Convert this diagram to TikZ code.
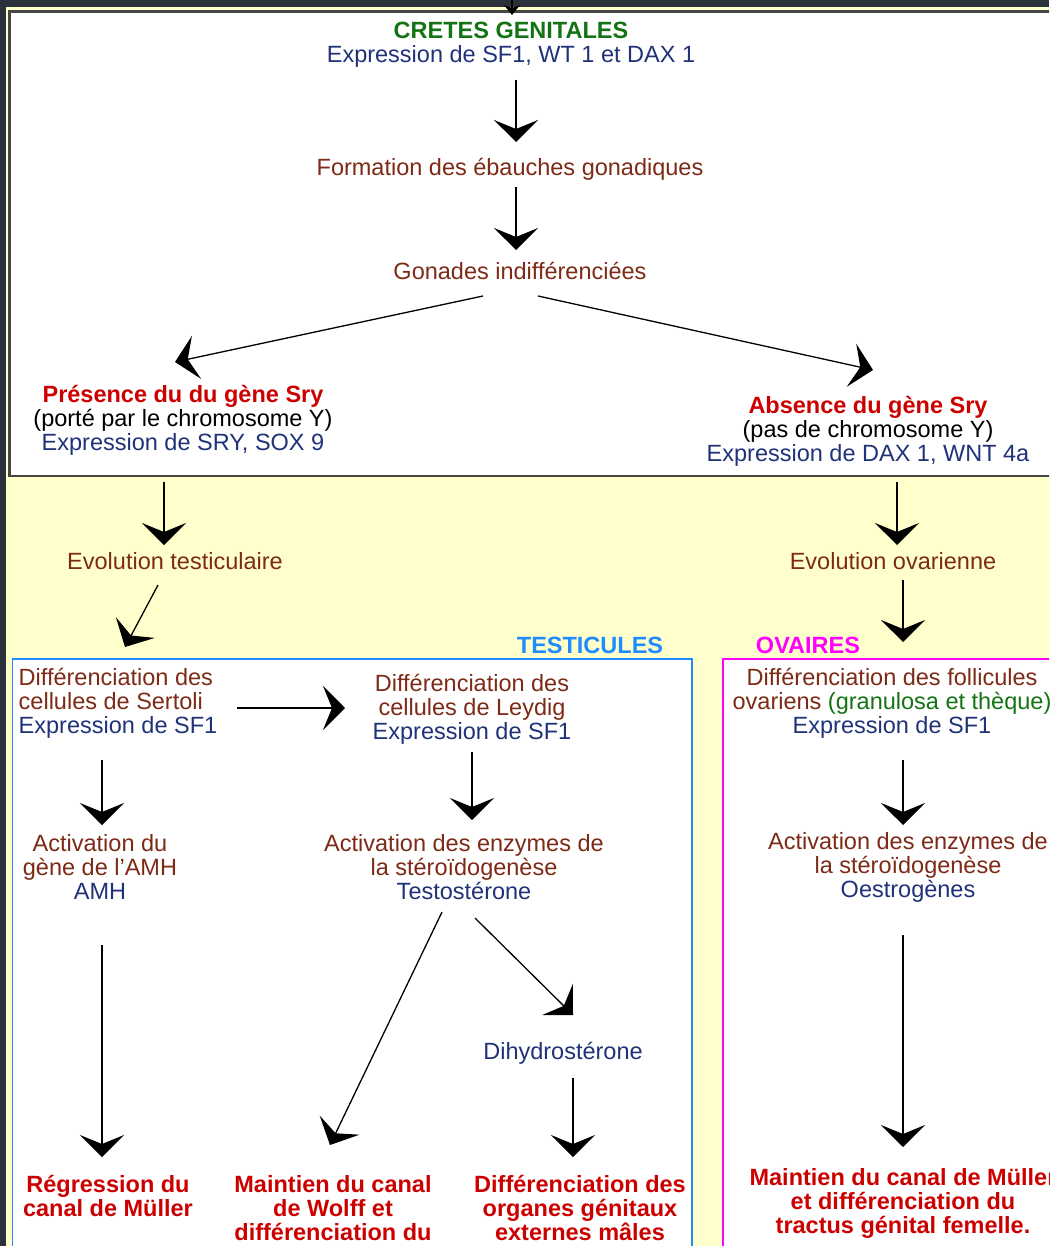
\documentclass[tikz,border=0pt]{standalone}
\usepackage{fontspec}
\setmainfont{Liberation Sans}
\usetikzlibrary{arrows.meta,calc,positioning}
\definecolor{bgdark}{RGB}{43,49,58}
\definecolor{paleyel}{RGB}{255,255,204}
\definecolor{framegray}{RGB}{70,70,70}
\definecolor{cgreen}{RGB}{20,115,20}
\definecolor{cnavy}{RGB}{32,50,120}
\definecolor{cbrown}{RGB}{125,42,22}
\definecolor{cred}{RGB}{205,0,0}
\definecolor{tblue}{RGB}{30,140,255}
\definecolor{omag}{RGB}{255,0,255}
\newcommand{\bigfont}{\fontsize{23.5}{24}\selectfont}

\begin{document}
\begin{tikzpicture}[x=1pt,y=-1pt,
  txt/.style={font=\bigfont,align=center,inner sep=0pt},
  desc/.style={txt,text=cbrown},
  result/.style={txt,text=cred,font=\bigfont\bfseries},
  arr/.style={-{Stealth[length=22pt,width=44pt,inset=9pt]},line width=1.3pt},
  smallarr/.style={-{Stealth[length=10pt,width=16pt,inset=3pt]},line width=1.3pt}]
  \useasboundingbox (0,0) rectangle (1049,1246);
  \clip (0,0) rectangle (1049,1246);
  % backgrounds and frames
  \fill[bgdark] (0,0) rectangle (1049,1246);
  \fill[paleyel] (6,7) rectangle (1049,1246);
  \filldraw[fill=white,draw=framegray,line width=2.5pt] (9.5,11.5) rectangle (1070,476);
  \filldraw[fill=white,draw=tblue,line width=1.5pt] (12.5,659) rectangle (692,1270);
  \filldraw[fill=white,draw=omag,line width=1.5pt] (723,659) rectangle (1070,1270);
  % common part
  \node[txt] (crest) at (511,45) {{\bfseries\color{cgreen}CRETES GENITALES}\\{\color{cnavy}Expression de SF1, WT 1 et DAX 1}};
  \coordinate (topIn) at (512,-20);
  \node[desc] (formation) at (510,169) {Formation des ébauches gonadiques};
  \node[desc] (gonades) at (520,271) {Gonades indifférenciées};
  \node[txt] (presence) at (183,420) {{\bfseries\color{cred}Présence du du gène Sry}\\(porté par le chromosome Y)\\{\color{cnavy}Expression de SRY, SOX 9}};
  \node[txt] (absence) at (868,431) {{\bfseries\color{cred}Absence du gène Sry}\\(pas de chromosome Y)\\{\color{cnavy}Expression de DAX 1, WNT 4a}};
  \node[desc] (evoT) at (175,561) {Evolution testiculaire};
  \node[desc] (evoO) at (893,561) {Evolution ovarienne};
  \node[txt,font=\bigfont\bfseries,text=tblue] (testLabel) at (590,645) {TESTICULES};
  \node[txt,font=\bigfont\bfseries,text=omag] (ovLabel) at (808,645) {OVAIRES};
  % testicules
  \node[desc,align=left] (sertoli) at (118,703) {Différenciation des\\cellules de Sertoli\\{\color{cnavy}Expression de SF1}};
  \node[desc] (leydig) at (472,709) {Différenciation des\\cellules de Leydig\\{\color{cnavy}Expression de SF1}};
  \node[desc] (amh) at (100,867) {Activation du\\gène de l'AMH\\{\color{cnavy}AMH}};
  \node[desc] (enzT) at (464,867) {Activation des enzymes de\\la stéroïdogenèse\\{\color{cnavy}Testostérone}};
  \node[txt,text=cnavy] (dht) at (563,1053) {Dihydrostérone};
  \node[result] (regression) at (108,1196) {Régression du\\canal de Müller};
  \node[result] (wolff) at (333,1208) {Maintien du canal\\de Wolff et\\différenciation du};
  \node[result] (organes) at (580,1208) {Différenciation des\\organes génitaux\\externes mâles};
  % ovaires
  \node[desc] (follicules) at (892,703) {Différenciation des follicules\\ovariens {\color{cgreen}(granulosa et thèque)}\\{\color{cnavy}Expression de SF1}};
  \node[desc] (enzO) at (908,867) {Activation des enzymes de\\la stéroïdogenèse\\{\color{cnavy}Oestrogènes}};
  \node[result] (mullerF) at (903,1203) {Maintien du canal de Müller\\et différenciation du\\tractus génital femelle.};
  % connectors
  \draw[smallarr] (topIn) -- ($(crest)+(1,-30)$);
  \draw[arr] ($(crest)+(5,35)$) -- ($(formation)+(6,-27)$);
  \draw[arr] ($(formation)+(6,18)$) -- ($(gonades)+(-4,-21)$);
  \draw[arr] ($(gonades)+(-37,25)$) -- ($(presence)+(-8,-58)$);
  \draw[arr] ($(gonades)+(18,25)$) -- ($(absence)+(5,-61)$);
  \draw[arr] ($(presence)+(-19,62)$) -- ($(evoT)+(-11,-16)$);
  \draw[arr] ($(absence)+(29,51)$) -- ($(evoO)+(4,-16)$);
  \draw[arr] ($(evoT)+(-17,24)$) -- ($(sertoli)+(7,-56)$);
  \draw[arr] ($(evoO)+(10,19)$) -- ($(follicules)+(11,-61)$);
  \draw[arr] ($(sertoli)+(119,5)$) -- ($(leydig)+(-127,-1)$);
  \draw[arr] ($(sertoli)+(-16,57)$) -- ($(amh)+(2,-42)$);
  \draw[arr] ($(leydig)+(0,43)$) -- ($(enzT)+(8,-47)$);
  \draw[arr] ($(follicules)+(11,57)$) -- ($(enzO)+(-5,-42)$);
  \draw[arr] ($(amh)+(2,78)$) -- ($(regression)+(-6,-39)$);
  \draw[arr] ($(enzT)+(-22,45)$) -- ($(wolff)+(-3,-63)$);
  \draw[arr] ($(enzT)+(11,51)$) -- ($(dht)+(10,-38)$);
  \draw[arr] ($(dht)+(10,25)$) -- ($(organes)+(-7,-51)$);
  \draw[arr] ($(enzO)+(-5,68)$) -- ($(mullerF)+(0,-56)$);
\end{tikzpicture}
\end{document}
